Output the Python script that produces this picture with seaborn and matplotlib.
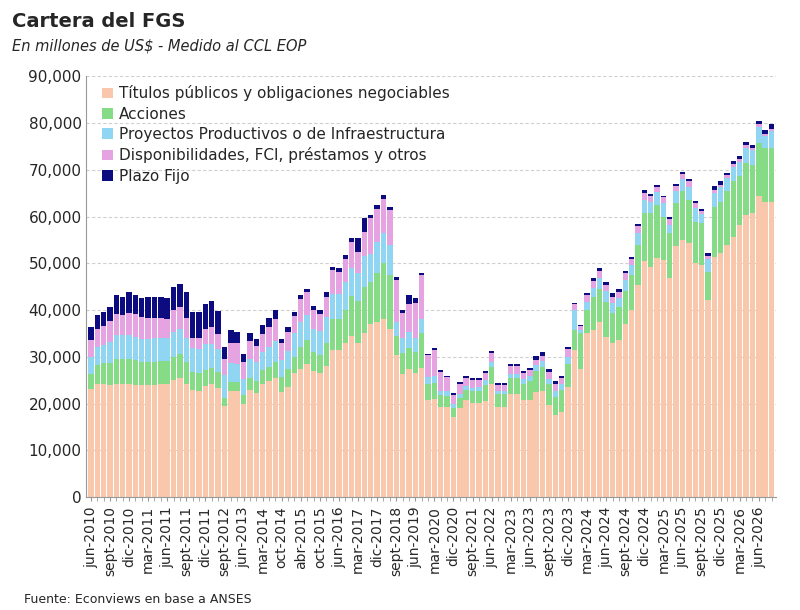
import numpy as np
import pandas as pd
import seaborn as sns
import matplotlib
matplotlib.use("Agg")
import matplotlib.pyplot as plt
from matplotlib.ticker import FuncFormatter

titulos = [23.2,24.3,24.3,23.9,24.3,24.3,24.3,24.0,23.9,23.9,24.0,24.1,24.1,25.0,25.5,24.2,23.0,22.8,23.8,24.3,23.3,19.5,22.8,22.8,20.0,23.0,22.3,24.3,24.8,25.5,22.5,23.5,26.5,27.5,28.5,27.0,26.5,28.0,31.5,31.5,33.0,34.5,33.0,35.0,37.0,37.5,38.0,36.0,30.4,26.3,27.5,26.5,27.7,20.7,
           21.0,19.3,19.3,17.1,19.0,20.7,20.2,20.2,20.5,24.3,19.3,19.3,22.1,22.1,20.7,20.8,22.5,22.8,19.6,17.5,18.2,23.6,31.4,27.5,35.0,35.7,37.5,34.3,32.9,33.6,37.1,40.0,45.4,50.4,49.3,51.1,50.7,46.8,53.6,55.0,54.3,50.0,49.6,42.1,51.4,52.1,53.9,55.7,58.2,60.4,60.7,64.3,63.2,63.2]
acciones = [3.2,4.0,4.3,4.7,5.3,5.3,5.3,5.3,5.0,5.0,5.0,5.0,5.0,5.0,5.2,4.8,3.8,3.8,3.4,3.4,3.4,1.8,1.8,1.8,1.8,2.5,2.5,2.8,3.0,3.3,3.1,3.8,3.5,4.5,5.0,4.0,4.0,5.0,6.5,6.5,7.0,8.5,9.0,10.0,9.0,10.5,12.0,11.5,4.0,4.5,4.3,4.5,7.5,3.5,
            3.5,2.5,2.3,2.0,2.3,2.2,2.4,2.5,3.5,3.5,2.7,2.7,3.3,3.3,3.5,4.0,4.5,5.0,4.5,4.0,4.8,4.8,4.3,7.5,5.0,7.0,7.0,7.5,6.5,7.0,7.0,7.5,8.5,10.3,11.4,11.4,9.3,9.6,9.3,10.4,9.3,8.9,9.0,6.1,10.7,11.1,11.5,11.8,10.4,11.0,10.3,11.4,11.4,11.4]
proyectos = [3.6,3.8,4.0,4.5,5.0,5.0,5.0,5.0,5.0,5.0,5.0,5.0,5.0,5.3,5.3,5.0,5.0,5.0,5.5,5.0,5.0,4.8,4.0,3.8,3.5,4.0,4.0,4.0,4.2,4.5,3.8,4.0,5.0,5.5,5.5,5.0,5.0,5.5,5.5,5.5,6.0,6.0,6.0,6.5,6.0,6.5,6.5,6.5,3.0,3.3,3.5,3.0,3.0,1.5,
             1.5,1.0,1.0,0.8,0.8,0.8,0.8,0.8,1.0,1.0,0.8,0.8,1.0,1.0,1.0,1.0,1.2,1.3,1.2,1.3,1.3,1.5,4.3,0.8,1.8,2.0,2.3,2.2,2.2,2.0,2.4,2.2,2.5,2.8,2.5,2.7,3.0,1.8,2.5,2.6,2.8,3.0,2.0,2.8,3.0,3.1,2.8,3.2,3.1,3.3,3.2,3.5,2.6,3.7]
disponib = [3.6,3.8,4.0,4.6,4.6,4.3,4.8,4.9,4.6,4.5,4.4,4.3,3.9,4.7,4.6,4.4,2.3,2.5,3.2,3.7,3.2,3.5,4.3,4.5,3.5,3.8,3.5,3.7,4.4,4.8,3.5,4.1,3.8,4.9,4.8,4.1,3.7,4.4,5.0,4.6,5.0,5.6,4.4,5.1,7.6,7.2,7.3,7.3,9.0,5.3,5.9,7.5,9.3,4.6,
            5.4,3.9,3.0,2.0,2.1,1.8,1.7,1.6,1.6,2.1,1.2,1.2,1.6,1.6,1.4,1.4,1.2,1.0,1.4,1.4,1.2,1.8,1.3,0.7,1.5,1.6,1.5,1.3,1.2,1.3,1.5,1.3,1.6,1.6,1.2,1.1,1.1,1.2,1.2,1.2,1.3,1.0,0.5,0.6,0.6,0.5,0.6,0.5,0.5,0.5,0.5,0.5,0.4,0.4]
plazo_fijo = [2.8,3.0,3.0,3.0,4.0,4.0,4.5,4.0,4.0,4.5,4.5,4.5,4.5,5.0,5.0,5.5,5.5,5.5,5.5,5.5,5.0,2.5,2.8,2.5,1.9,1.8,1.6,2.0,2.0,2.0,1.0,1.0,0.8,0.8,0.8,0.8,0.8,1.0,0.8,0.8,0.8,0.8,3.0,3.0,0.8,0.8,0.8,0.8,0.7,0.6,2.0,1.0,0.5,0.4,
              0.4,0.4,0.4,0.4,0.4,0.4,0.4,0.4,0.4,0.4,0.4,0.4,0.4,0.4,0.4,0.4,0.7,1.0,0.6,0.6,0.4,0.4,0.3,0.3,0.4,0.5,0.8,0.8,0.8,0.6,0.4,0.4,0.4,0.5,0.4,0.5,0.4,0.4,0.4,0.4,0.4,0.5,0.5,0.5,0.9,0.8,0.5,0.7,0.7,0.7,0.7,0.8,0.8,1.1]

tick_labels = ["jun-2010","sept-2010","dic-2010","mar-2011","jun-2011","sept-2011","dic-2011","sept-2012",
               "jun-2013","mar-2014","oct-2014","abr-2015","oct-2015","jun-2016","mar-2017","dic-2017",
               "sept-2018","jun-2019","mar-2020","dic-2020","sept-2021","jun-2022","mar-2023","jun-2023",
               "sept-2023","dic-2023","mar-2024","jun-2024","sept-2024","dic-2024","mar-2025","jun-2025",
               "sept-2025","dic-2025","mar-2026","jun-2026"]

series = [("Títulos públicos y obligaciones negociables", titulos, "#F8C7AC"),
          ("Acciones", acciones, "#86DC86"),
          ("Proyectos Productivos o de Infraestructura", proyectos, "#90D5F2"),
          ("Disponibilidades, FCI, préstamos y otros", disponib, "#E6A3E2"),
          ("Plazo Fijo", plazo_fijo, "#0C0C80")]

n = len(titulos)
idx = np.arange(n)
sns.set_style("white")
plt.rcParams['font.family'] = ['DejaVu Sans']

fig = plt.figure(figsize=(8, 6.1), dpi=100)
ax = fig.add_axes([0.108, 0.185, 0.862, 0.69])

cum = np.zeros(n)
cums = []
for name, vals, col in series:
    cum = cum + np.array(vals) * 1000
    cums.append((name, cum.copy(), col))

for name, c, col in reversed(cums):
    df = pd.DataFrame({"x": idx, "y": c})
    sns.barplot(data=df, x="x", y="y", color=col, width=0.85, ax=ax,
                native_scale=True, label=name, saturation=1, edgecolor="none")

ax.set_xlim(-0.7, n - 0.3)
ax.set_ylim(0, 90000)
ax.set_yticks(np.arange(0, 90001, 10000))
ax.yaxis.set_major_formatter(FuncFormatter(lambda v, p: f"{int(v):,}"))
ax.yaxis.grid(True, color="#d0d0d0", linestyle=(0, (3, 2)), linewidth=0.8)
ax.set_axisbelow(True)
ax.set_xticks(np.arange(0, 3 * len(tick_labels), 3))
ax.set_xticklabels(tick_labels, rotation=90, fontsize=10)
ax.set_xticks(idx, minor=True)
ax.tick_params(axis="x", which="both", length=3, color="#999999", bottom=True)
ax.tick_params(axis="y", labelsize=11, length=0)
ax.set_xlabel("")
ax.set_ylabel("")
for s in ["top", "right"]:
    ax.spines[s].set_visible(False)
for s in ["left", "bottom"]:
    ax.spines[s].set_color("#999999")

handles, labels = ax.get_legend_handles_labels()
order = [labels.index(s[0]) for s in series]
ax.legend([handles[i] for i in order], [labels[i] for i in order], loc="upper left",
          bbox_to_anchor=(0.01, 1.0), frameon=False, fontsize=11, handlelength=0.7,
          handleheight=0.7, handletextpad=0.4, labelspacing=0.35, borderaxespad=0.2)

fig.text(0.015, 0.965, "Cartera del FGS", fontsize=14, fontweight="bold", va="center")
fig.text(0.015, 0.925, "En millones de US$ - Medido al CCL EOP", fontsize=10.5, style="italic", va="center")
fig.text(0.03, 0.018, "Fuente: Econviews en base a ANSES", fontsize=9, va="center")

fig.savefig("out.png", dpi=100)
